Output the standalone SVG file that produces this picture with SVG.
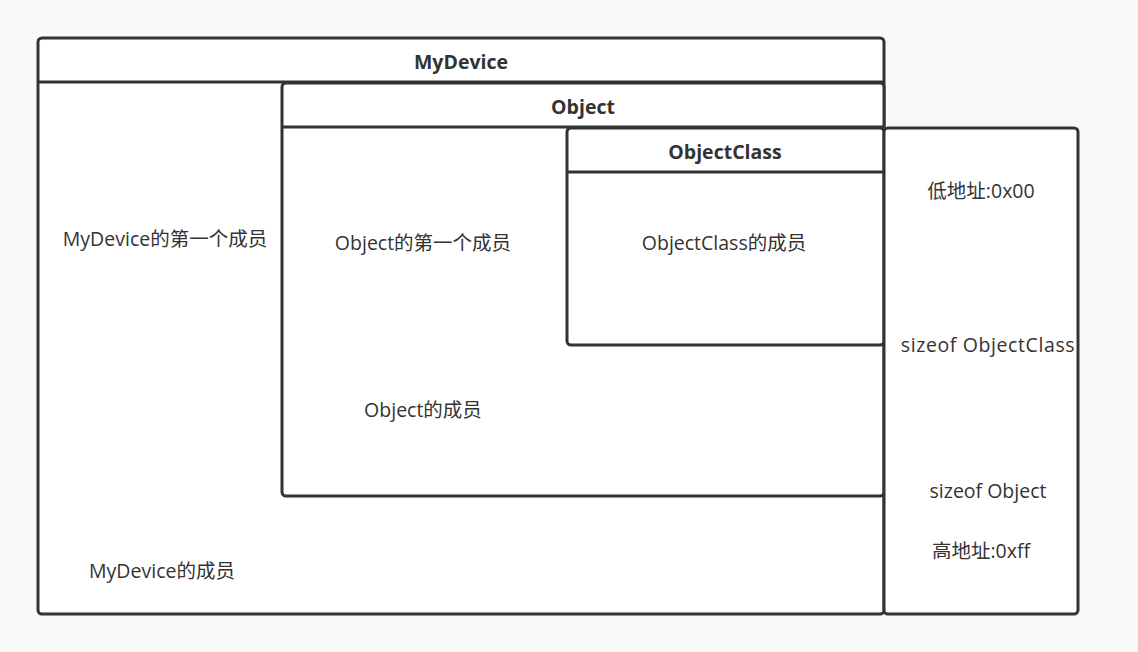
<svg xmlns="http://www.w3.org/2000/svg" width="1138" height="652" viewBox="0 0 1138 652">
<style>
.box{fill:#ffffff;stroke:#333333;stroke-width:3}
.ln{stroke:#333333;stroke-width:3;fill:none}
.t{font-family:"Open Sans","Noto Sans","Noto Sans CJK SC",sans-serif;font-size:19.5px;fill:#333333;text-anchor:middle}
.h{font-family:"Open Sans","Noto Sans","Noto Sans CJK SC",sans-serif;font-size:19.5px;font-weight:bold;fill:#333333;text-anchor:middle}
</style>
<rect width="1138" height="652" fill="#f9f9f9"/>
<g id="mydevice">
<rect class="box" x="38" y="38" width="846" height="576" rx="4"/>
<line class="ln" x1="38" y1="82" x2="884" y2="82"/>
<text class="h" x="461" y="69">MyDevice</text>
<text class="t" x="165" y="246">MyDevice的第一个成员</text>
<text class="t" x="162" y="578">MyDevice的成员</text>
</g>
<g id="object">
<rect class="box" x="282" y="83" width="602" height="413" rx="4"/>
<line class="ln" x1="282" y1="127" x2="884" y2="127"/>
<text class="h" x="583" y="114">Object</text>
<text class="t" x="423" y="250">Object的第一个成员</text>
<text class="t" x="423" y="417">Object的成员</text>
</g>
<g id="objectclass">
<rect class="box" x="567" y="128" width="317" height="217" rx="4"/>
<line class="ln" x1="567" y1="172" x2="884" y2="172"/>
<text class="h" x="725" y="159">ObjectClass</text>
<text class="t" x="724" y="250">ObjectClass的成员</text>
</g>
<g id="memory">
<rect class="box" x="884" y="128" width="194" height="486" rx="4"/>
<text class="t" x="981" y="198">低地址:0x00</text>
<text class="t" x="988" y="352" letter-spacing="0.6">sizeof ObjectClass</text>
<text class="t" x="988" y="498">sizeof Object</text>
<text class="t" x="981" y="558">高地址:0xff</text>
</g>
<g id="connectors"></g>
</svg>
